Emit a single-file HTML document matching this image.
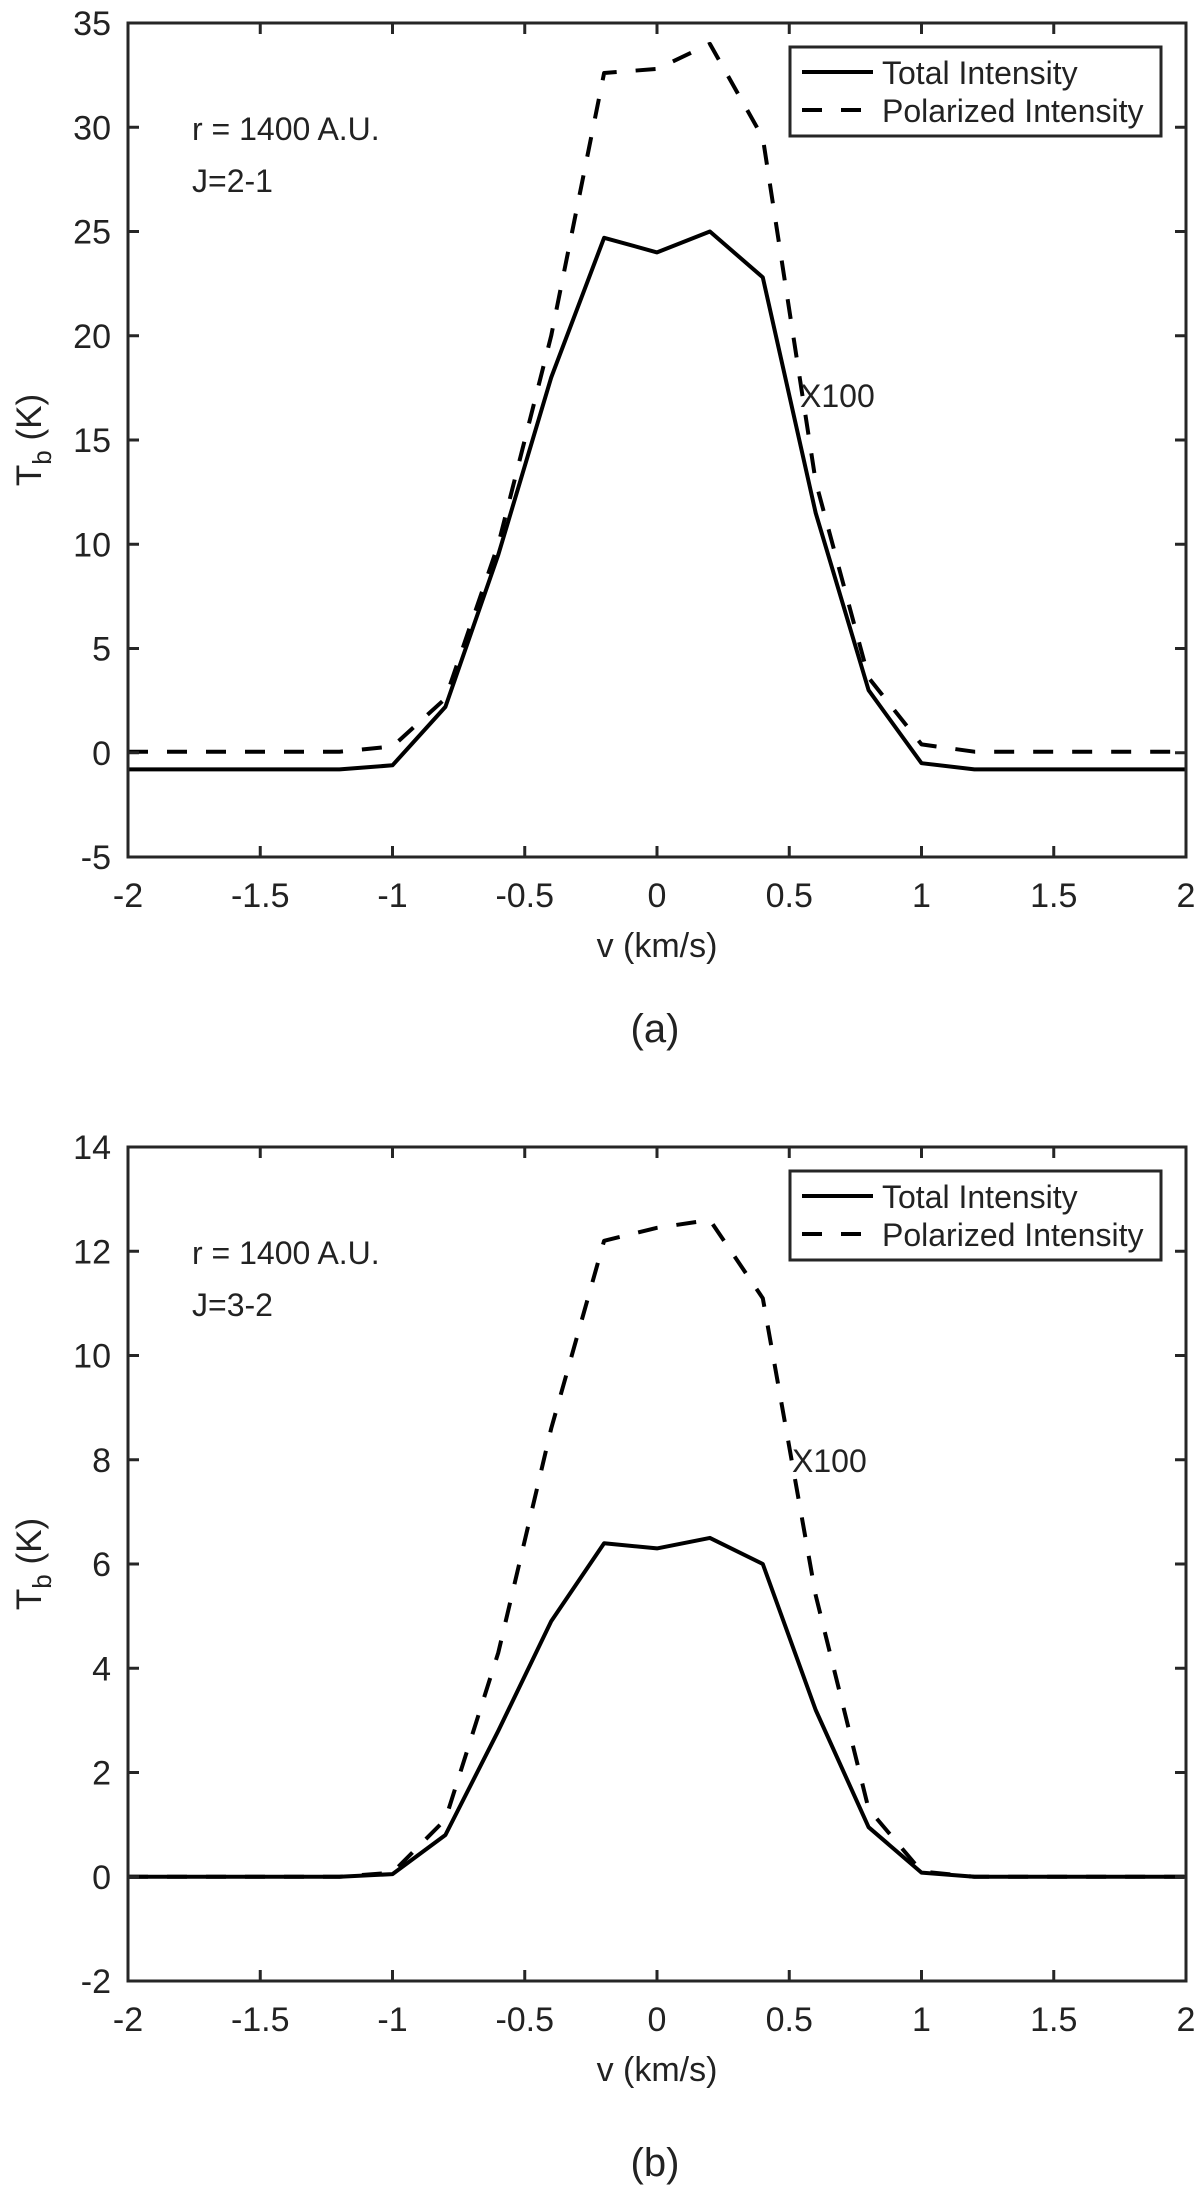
<!DOCTYPE html>
<html><head><meta charset="utf-8"><style>
body{margin:0;background:#fff}
svg{display:block}
text{font-family:"Liberation Sans",Arial,sans-serif;fill:#222}
</style></head><body>
<svg id="s" width="1200" height="2188" viewBox="0 0 1200 2188"></svg>
<script>
const vel = [-2,-1.8,-1.6,-1.4,-1.2,-1,-0.8,-0.6,-0.4,-0.2,0,0.2,0.4,0.6,0.8,1,1.2,1.4,1.6,1.8,2];
const totalA = [-0.8,-0.8,-0.8,-0.8,-0.8,-0.6,2.2,9.5,18,24.7,24,25,22.8,11.5,3,-0.5,-0.8,-0.8,-0.8,-0.8,-0.8];
const polA = [0.05,0.05,0.05,0.05,0.05,0.3,2.6,10,20,32.6,32.8,34,29.5,13,3.6,0.4,0.05,0.05,0.05,0.05,0.05];
const totalB = [0,0,0,0,0,0.05,0.8,2.8,4.9,6.4,6.3,6.5,6.0,3.2,0.95,0.08,0,0,0,0,0];
const polB = [0,0,0,0,0,0.08,1.1,4.3,8.6,12.2,12.45,12.6,11.1,5.4,1.3,0.1,0,0,0,0,0];
const xTicks = [-2,-1.5,-1,-0.5,0,0.5,1,1.5,2];
const yTicksA = [-5,0,5,10,15,20,25,30,35];
const yTicksB = [-2,0,2,4,6,8,10,12,14];
const NS = "http://www.w3.org/2000/svg";
const svg = document.getElementById('s');
function mk(tag, attrs, parent, txt){const e=document.createElementNS(NS,tag);for(const k in attrs)e.setAttribute(k,attrs[k]);if(txt!==undefined)e.textContent=txt;(parent||svg).appendChild(e);return e;}
function panel(o){
  const L=128,R=1186,T=o.top,B=o.bot;
  const g=mk('g',{});
  
  
  const sx=v=>L+(v-(-2))/4*(R-L);
  const sy=v=>B-(v-o.ymin)/(o.ymax-o.ymin)*(B-T);
  const pts=a=>a.map((v,i)=>sx(vel[i]).toFixed(1)+','+sy(v).toFixed(1)).join(' ');
  const l1=mk('polyline',{points:pts(o.pol),fill:'none',stroke:'#000','stroke-width':4,'stroke-dasharray':'20 19','stroke-linejoin':'round'},g);
  
  
  const l2=mk('polyline',{points:pts(o.tot),fill:'none',stroke:'#000','stroke-width':4,'stroke-linejoin':'round'},g);
  
  
  const box=mk('rect',{x:L,y:T,width:R-L,height:B-T,fill:'none',stroke:'#262626','stroke-width':3},g);
  
  
  xTicks.forEach(v=>{const x=sx(v);
    mk('line',{x1:x,x2:x,y1:B,y2:B-11,stroke:'#262626','stroke-width':3},g);
    mk('line',{x1:x,x2:x,y1:T,y2:T+11,stroke:'#262626','stroke-width':3},g);
    const t=mk('text',{x:x,y:B+50,'font-size':34,'text-anchor':'middle'},g,String(v));
    
    
  });
  o.yt.forEach(v=>{const y=sy(v);
    mk('line',{x1:L,x2:L+11,y1:y,y2:y,stroke:'#262626','stroke-width':3},g);
    mk('line',{x1:R,x2:R-11,y1:y,y2:y,stroke:'#262626','stroke-width':3},g);
    const t=mk('text',{x:111,y:y+12,'font-size':34,'text-anchor':'end'},g,String(v));
    
    
  });
  const xl=mk('text',{x:(L+R)/2,y:B+100,'font-size':34,'text-anchor':'middle'},g,'v (km/s)');
  
  
  const yc=(T+B)/2;
  const yl=mk('text',{x:0,y:0,'font-size':35,'text-anchor':'middle',transform:`translate(41,${yc}) rotate(-90)`},g);
  
  
  mk('tspan',{},yl,'T');mk('tspan',{dy:10,'font-size':26},yl,'b');mk('tspan',{dy:-10},yl,' (K)');
  const a1=mk('text',{x:192,y:T+117,'font-size':32},g,'r = 1400 A.U.');
  
  
  const a2=mk('text',{x:192,y:T+169,'font-size':32},g,o.j);
  
  
  const a3=mk('text',{x:o.xx,y:o.xy,'font-size':32},g,'X100');
  
  
  const lg=mk('g',{},g);
  
  
  mk('rect',{x:790,y:T+24,width:371,height:89,fill:'#fff',stroke:'#262626','stroke-width':3},lg);
  mk('line',{x1:802,x2:873,y1:T+49,y2:T+49,stroke:'#000','stroke-width':4},lg);
  mk('line',{x1:802,x2:873,y1:T+87,y2:T+87,stroke:'#000','stroke-width':4,'stroke-dasharray':'20 19'},lg);
  const e1=mk('text',{x:882,y:T+61,'font-size':32},lg,'Total Intensity');
  
  
  const e2=mk('text',{x:882,y:T+99,'font-size':32},lg,'Polarized Intensity');
  
  
  const cap=mk('text',{x:(L+R)/2-2,y:o.capY,'font-size':40,'text-anchor':'middle','font-family':'Liberation Serif, serif'},g,o.cap);
  
  
}
panel({name:'panel-a',top:23,bot:857,ymin:-5,ymax:35,yt:yTicksA,tot:totalA,pol:polA,j:'J=2-1',xx:800,xy:407,cap:'(a)',capY:1042});
panel({name:'panel-b',top:1147,bot:1981,ymin:-2,ymax:14,yt:yTicksB,tot:totalB,pol:polB,j:'J=3-2',xx:792,xy:1472,cap:'(b)',capY:2176});
</script>
</body></html>
